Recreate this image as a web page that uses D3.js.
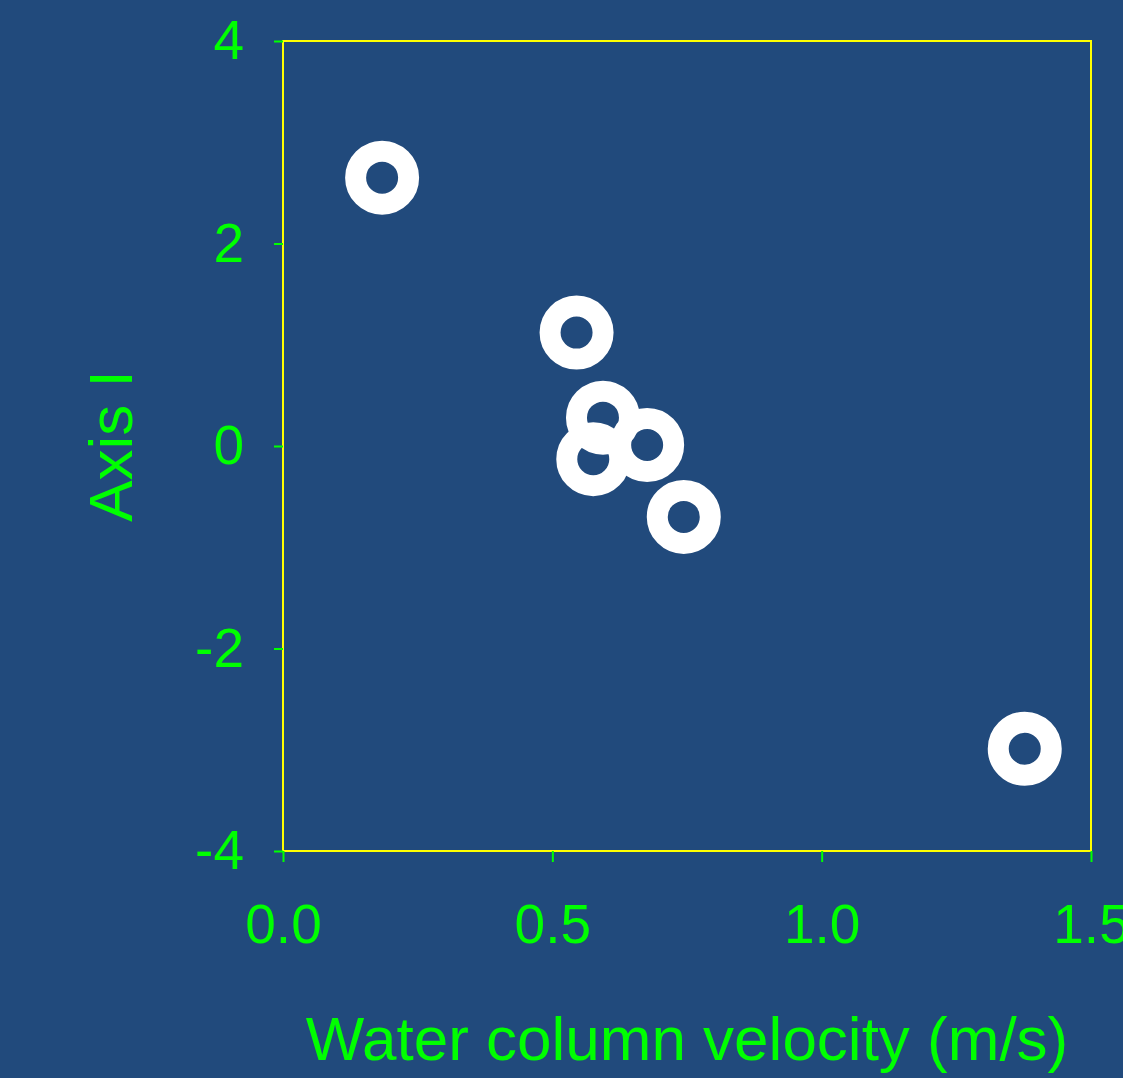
<!DOCTYPE html>
<html>
<head>
<meta charset="utf-8">
<script src="https://cdn.jsdelivr.net/npm/d3@7"></script>
<style>
  html, body { margin: 0; padding: 0; background: #214a7c; }
  svg { display: block; }
  text { font-family: "Liberation Sans", Arial, sans-serif; }
</style>
</head>
<body>
<script>
const velocity = [0.184, 0.545, 0.594, 0.676, 0.576, 0.744, 1.377];
const axisI    = [2.65, 1.12, 0.28, 0.01, -0.13, -0.70, -2.99];
const xTicks = [0.0, 0.5, 1.0, 1.5];
const yTicks = [-4, -2, 0, 2, 4];
const xTitle = "Water column velocity (m/s)";
const yTitle = "Axis I";

const W = 1123, H = 1078;
const pLeft = 283, pRight = 1091, pTop = 41, pBottom = 851;
const bg = "#214a7c", green = "#00ff00", yellow = "#ffff00";

const svg = d3.select("body").append("svg").attr("width", W).attr("height", H);
svg.append("rect").attr("width", W).attr("height", H).attr("fill", bg);

const x = d3.scaleLinear().domain([0, 1.5]).range([pLeft, pRight]);
const y = d3.scaleLinear().domain([-4, 4]).range([pBottom, pTop]);

// frame
svg.append("rect")
  .attr("x", pLeft).attr("y", pTop)
  .attr("width", pRight - pLeft).attr("height", pBottom - pTop)
  .attr("fill", "none").attr("stroke", yellow).attr("stroke-width", 2);

// axes
const gx = svg.append("g").attr("transform", `translate(0,${pBottom})`)
  .call(d3.axisBottom(x).tickValues(xTicks).tickFormat(d => d.toFixed(1)).tickSize(11).tickPadding(42));
const gy = svg.append("g").attr("transform", `translate(${pLeft},0)`)
  .call(d3.axisLeft(y).tickValues(yTicks).tickFormat(d => String(d)).tickSize(9).tickPadding(30));
[gx, gy].forEach(g => {
  g.select(".domain").remove();
  g.selectAll(".tick line").attr("stroke", green).attr("stroke-width", 2);
  g.selectAll(".tick text").attr("fill", green).style("font-size", "55px")
    .style("font-family", '"Liberation Sans", Arial, sans-serif');
});

// points
svg.append("g").selectAll("circle")
  .data(velocity.map((v, i) => [v, axisI[i]]))
  .join("circle")
  .attr("cx", d => x(d[0]))
  .attr("cy", d => y(d[1]))
  .attr("r", 26.5)
  .attr("fill", "none")
  .attr("stroke", "#ffffff")
  .attr("stroke-width", 21);

// titles
svg.append("text")
  .attr("x", (pLeft + pRight) / 2).attr("y", 1060)
  .attr("text-anchor", "middle")
  .attr("fill", green).style("font-size", "62px")
  .text(xTitle);

svg.append("text")
  .attr("transform", `translate(132,${(pTop + pBottom) / 2}) rotate(-90)`)
  .attr("text-anchor", "middle")
  .attr("fill", green).style("font-size", "62px")
  .text(yTitle);
</script>
</body>
</html>
